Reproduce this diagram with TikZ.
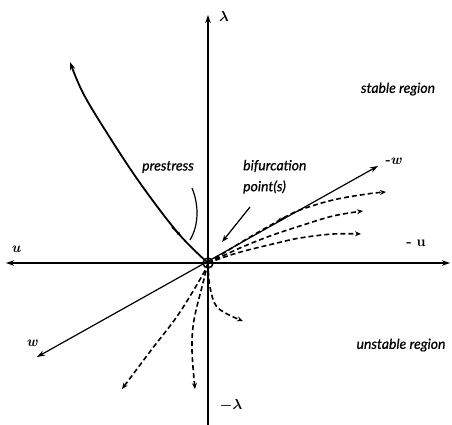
\documentclass[tikz,border=0pt]{standalone}
\usepackage{fontspec}
\newfontfamily\lbl[ItalicFeatures={FakeBold=0.6}]{Lato}
\usetikzlibrary{arrows.meta}
\begin{document}
\begin{tikzpicture}[x=1pt,y=-1pt,
  ax/.style={line width=1.2pt,-{Stealth[length=8pt,width=5.5pt]}},
  dax/.style={line width=1.2pt,{Stealth[length=8pt,width=5.5pt]}-{Stealth[length=8pt,width=5.5pt]}},
  dsh/.style={line width=1.6pt,dash pattern=on 5pt off 3pt,-{Stealth[length=6pt,width=5pt]}},
  lab/.style={font=\lbl\itshape\fontsize{14}{16}\selectfont,inner sep=0pt},
  sym/.style={font=\bfseries\itshape\fontsize{14.5}{16}\selectfont,inner sep=0pt},
  tick/.style={-{Stealth[length=5pt,width=4pt]}}]
\useasboundingbox (0,0) rectangle (452,425);
% coordinates
\coordinate (O) at (208,263);
\coordinate (lt) at (208,15);
\coordinate (lb) at (208,425);
\coordinate (ul) at (6,263);
\coordinate (ur) at (450,263);
\coordinate (wp) at (37,357);
\coordinate (wm) at (378,166);
\coordinate (ptop) at (70,62);
\coordinate (pp1) at (192,188);
\coordinate (pp2) at (190,240);
\coordinate (bf1) at (250,207);
\coordinate (bf2) at (222,242);
\coordinate (d1) at (386,192);
\coordinate (d2) at (363,211);
\coordinate (d3) at (361,234);
\coordinate (d4) at (122,389);
\coordinate (d5) at (195,389);
\coordinate (d6) at (243,321);
\coordinate (m1a) at (172,227);
\coordinate (m1b) at (181,236);
\coordinate (m2a) at (287,216);
\coordinate (m2b) at (277,221.5);
% axes
\draw[ax] (lb) -- (lt);
\draw[dax] (ul) -- (ur);
\draw[dax] (wp) -- (wm);
% prestress path
\draw[line width=1.8pt,-{Stealth[length=8pt,width=5.5pt]}]
  plot[smooth,tension=0.6] coordinates {(O) (178,233) (140,183) (107,133) (83,93) (ptop)};
\draw[line width=1.6pt,tick] (m1a) -- (m1b);
% pointers
\draw[line width=1.2pt] (pp1) .. controls (199,205) and (199,225) .. (pp2);
\draw[line width=1.2pt,-{Stealth[length=7pt,width=5pt]}] (bf1) -- (bf2);
% dashed branches
\draw[dsh] plot[smooth,tension=0.6] coordinates {(O) (245,240) (280,220) (300,210) (333,200) (367,194) (d1)};
\draw[line width=1.4pt,tick] (m2a) -- (m2b);
\draw[dsh] plot[smooth,tension=0.6] coordinates {(O) (240,248) (270,236) (300,226) (333,216) (d2)};
\draw[dsh] plot[smooth,tension=0.6] coordinates {(O) (237,253) (277,243) (300,238) (333,234) (d3)};
\draw[dsh] plot[smooth,tension=0.6] coordinates {(O) (202,276) (178,315) (152,349) (d4)};
\draw[dsh] plot[smooth,tension=0.6] coordinates {(O) (203,283) (194,320) (192,350) (d5)};
\draw[dsh] plot[smooth,tension=0.6] coordinates {(O) (210,287) (218,308) (d6)};
% origin circle
\node[circle,draw,line width=1.5pt,minimum size=10pt,inner sep=0pt] (Oc) at (O) {};
% labels
\node[font=\boldmath\fontsize{14}{16}\selectfont,inner sep=0pt] (llam) at (224,17) {$\lambda$};
\node[font=\boldmath\fontsize{14}{16}\selectfont,inner sep=0pt] (lmlam) at (231,405) {$-\lambda$};
\node[sym] (lu) at (16,249) {u};
\node[sym] (lw) at (32,343) {w};
\node[sym] (lmw) at (393,161) {-w};
\node[font=\bfseries\fontsize{14.5}{16}\selectfont,inner sep=0pt] (lmu) at (416,243) {-\,\,u};
\node[lab] (lst) at (398,89) {stable region};
\node[lab] (lun) at (401,345) {unstable region};
\node[lab] (lpr) at (168,167) {prestress};
\node[lab,anchor=west] (lbf) at (243,166) {bifurcation};
\node[lab,anchor=west] (lpt) at (243,187) {point(s)};
\end{tikzpicture}
\end{document}
